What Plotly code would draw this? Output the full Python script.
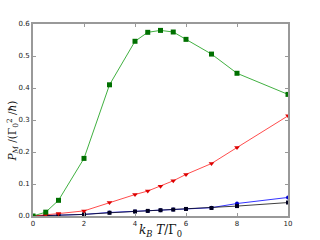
import plotly.graph_objects as go

x_vals = [0, 0.5, 1, 2, 3, 4, 4.5, 5, 5.5, 6, 7, 8, 10]
green = [0.0, 0.012, 0.049, 0.18, 0.41, 0.546, 0.574, 0.580, 0.575, 0.552, 0.506, 0.446, 0.380]
red = [0.0, 0.003, 0.0075, 0.016, 0.042, 0.067, 0.078, 0.093, 0.110, 0.130, 0.164, 0.214, 0.313]
blue = [0.0, 0.001, 0.003, 0.005, 0.011, 0.014, 0.016, 0.018, 0.020, 0.022, 0.026, 0.039, 0.058]
black = [0.0, 0.001, 0.003, 0.005, 0.010, 0.014, 0.016, 0.018, 0.020, 0.022, 0.025, 0.031, 0.042]

x_ticks = [0, 2, 4, 6, 8, 10]
y_ticks = [0.0, 0.1, 0.2, 0.3, 0.4, 0.5, 0.6]

fig = go.Figure()
fig.add_trace(go.Scatter(x=x_vals, y=blue, mode="lines+markers",
                         line=dict(color="rgba(0,0,255,0.8)", width=1),
                         marker=dict(symbol="circle", size=4, color="#0000cc")))
fig.add_trace(go.Scatter(x=x_vals, y=black, mode="lines+markers",
                         line=dict(color="rgba(0,0,0,0.75)", width=1),
                         marker=dict(symbol="square", size=4, color="#000020")))
fig.add_trace(go.Scatter(x=x_vals, y=red, mode="lines+markers",
                         line=dict(color="rgba(255,0,0,0.7)", width=1),
                         marker=dict(symbol="triangle-down", size=5, color="#dd0000")))
fig.add_trace(go.Scatter(x=x_vals, y=green, mode="lines+markers",
                         line=dict(color="rgba(0,150,0,0.75)", width=1),
                         marker=dict(symbol="square", size=5, color="#007000")))

axis_common = dict(showgrid=False, zeroline=False, showline=True, linecolor="#999999",
                   linewidth=2, mirror="ticks", ticks="inside", ticklen=3, automargin=False,
                   tickcolor="#999999", tickfont=dict(size=7, family="DejaVu Sans", color="#222222"))

fig.update_xaxes(range=[0, 10], tickvals=x_ticks, ticktext=[str(t) for t in x_ticks], **axis_common)
fig.update_yaxes(range=[0, 0.6], tickvals=y_ticks, ticktext=[f"{t:.1f}" for t in y_ticks], **axis_common)

fig.update_layout(width=320, height=240, showlegend=False,
                  margin=dict(l=33, r=32, t=24, b=24),
                  paper_bgcolor="white", plot_bgcolor="white",
                  annotations=[
                      dict(text="<i>k<sub>B</sub> T</i>/Γ<sub>0</sub>", xref="paper", yref="paper",
                           x=0.5, y=-0.078, xanchor="center", yanchor="middle", showarrow=False,
                           font=dict(size=12, family="DejaVu Serif", color="#111111")),
                      dict(text="<i>P<sub>M</sub></i> /(Γ<sub>0</sub><sup>2</sup> /<i>ħ</i>)",
                           xref="paper", yref="paper", x=-0.082, y=0.44, textangle=-90,
                           xanchor="center", yanchor="middle", showarrow=False,
                           font=dict(size=10.5, family="DejaVu Serif", color="#111111")),
                  ])

fig.write_html("out.html", config={"displayModeBar": False},
               post_script="document.body.style.margin='0';document.body.style.overflow='hidden';")
